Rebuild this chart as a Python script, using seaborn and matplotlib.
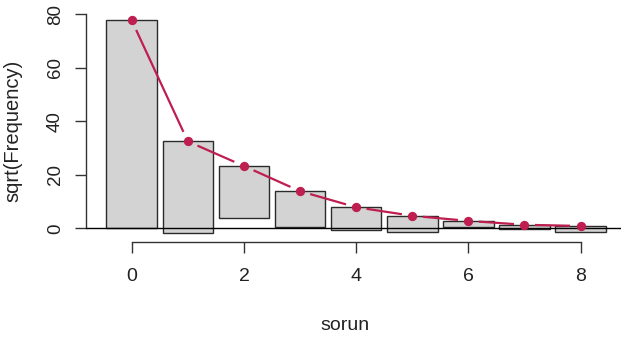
import matplotlib
matplotlib.use("Agg")
import matplotlib.pyplot as plt
import seaborn as sns
import numpy as np
import pandas as pd

# hanging rootogram of "sorun": sqrt of expected and observed frequencies
counts = [0, 1, 2, 3, 4, 5, 6, 7, 8]
expected_sqrt = [77.7, 32.5, 23.3, 13.9, 7.9, 4.7, 2.8, 1.35, 0.9]
observed_sqrt = [77.7, 34.4, 19.6, 13.5, 8.4, 6.1, 2.4, 1.75, 2.3]
x_ticks = [0, 2, 4, 6, 8]
y_ticks = [0, 20, 40, 60, 80]

df = pd.DataFrame({"sorun": counts, "expected": expected_sqrt, "observed": observed_sqrt})
df["bottom"] = df["expected"] - df["observed"]

sns.set_style("white")
plt.rcParams["font.family"] = ["Liberation Sans", "DejaVu Sans"]
narrow = ["Liberation Sans Narrow", "Liberation Sans", "DejaVu Sans"]
red = "#BE1E50"

fig = plt.figure(figsize=(6.21, 3.42), dpi=100)
ax = fig.add_axes([86 / 621, 1 - 242.3 / 342, (621 - 86) / 621, (242.3 - 11.6) / 342])
ax.set_xlim(-0.815, 8.72)
ax.set_ylim(-5.2, 81)

# bars hang from the expected curve
ax.bar(df["sorun"], df["observed"], width=0.9, bottom=df["bottom"],
       color="#D3D3D3", edgecolor="#2b2b2b", linewidth=1.0, zorder=2)
ax.axhline(0, color="black", linewidth=1.0, zorder=3)

# R type="b" line: segments with gaps around the points
fig.canvas.draw()
pts = ax.transData.transform(np.column_stack([df["sorun"], df["expected"]]))
inv = ax.transData.inverted()
gap = 10.5
for (p0, p1) in zip(pts[:-1], pts[1:]):
    d = p1 - p0
    L = np.hypot(*d)
    if L <= 2 * gap:
        continue
    u = d / L
    a = inv.transform(p0 + u * gap)
    b = inv.transform(p1 - u * gap)
    ax.plot([a[0], b[0]], [a[1], b[1]], color=red, linewidth=1.6, zorder=4,
            solid_capstyle="butt")
sns.scatterplot(data=df, x="sorun", y="expected", ax=ax, color=red, s=45,
                edgecolor=red, linewidth=0, zorder=5)

# R-style axes
for s in ["top", "right"]:
    ax.spines[s].set_visible(False)
ax.spines["left"].set_bounds(0, 80)
ax.spines["bottom"].set_bounds(0, 8)
for s in ["left", "bottom"]:
    ax.spines[s].set_color("#333333")
    ax.spines[s].set_linewidth(1.0)
ax.set_xticks(x_ticks)
ax.set_yticks(y_ticks)
ax.tick_params(axis="both", direction="out", length=7.8, width=1.0, color="#333333",
               left=True, bottom=True)
ax.tick_params(axis="x", pad=11)
ax.tick_params(axis="y", pad=8)
ax.set_xticklabels([str(v) for v in x_ticks], family=narrow, fontsize=14, color="#222222")
ax.set_yticklabels([str(v) for v in y_ticks], fontsize=13.5, color="#222222",
                   rotation=90, va="center")
ax.set_xlabel("")
ax.set_ylabel("")
fig.text(345 / 621, 1 - 325 / 342, "sorun", ha="center", va="center",
         family=narrow, fontsize=14, color="#222222")
fig.text(13 / 621, 1 - 131 / 342, "sqrt(Frequency)", ha="center", va="center",
         rotation=90, fontsize=14.5, color="#222222")

fig.savefig("out.png", dpi=100)
